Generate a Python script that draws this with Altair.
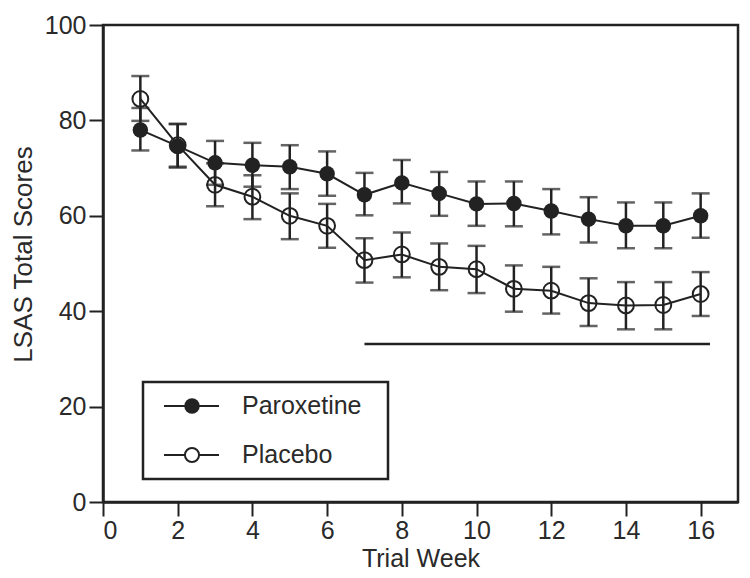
import altair as alt
import pandas as pd

weeks = list(range(1, 17))
parox_mean = [78.0, 74.6, 71.1, 70.6, 70.3, 68.8, 64.4, 66.9, 64.7, 62.5, 62.6, 61.0, 59.3, 57.9, 57.9, 60.0]
parox_lo = [73.7, 70.1, 66.5, 66.1, 65.6, 64.2, 60.1, 62.6, 60.0, 57.9, 57.8, 56.1, 54.4, 53.2, 53.2, 55.4]
parox_hi = [82.6, 79.2, 75.7, 75.3, 74.8, 73.5, 69.0, 71.7, 69.2, 67.2, 67.2, 65.6, 63.9, 62.8, 62.8, 64.7]
placebo_mean = [84.5, 74.8, 66.5, 64.0, 60.0, 57.9, 50.7, 51.9, 49.3, 48.8, 44.7, 44.3, 41.7, 41.2, 41.3, 43.6]
placebo_lo = [79.9, 70.3, 62.0, 59.3, 55.1, 53.3, 46.0, 47.1, 44.4, 43.8, 39.9, 39.5, 36.9, 36.2, 36.2, 39.0]
placebo_hi = [89.3, 79.3, 71.0, 68.5, 64.7, 62.5, 55.3, 56.5, 54.2, 53.7, 49.6, 49.3, 46.9, 46.1, 46.1, 48.2]
series_names = ["Paroxetine", "Placebo"]
sig_line_x = [7.0, 16.25]
sig_line_y = [33.1]
x_ticks = [0, 2, 4, 6, 8, 10, 12, 14, 16]
y_ticks = [0, 20, 40, 60, 80, 100]

INK = "#222222"
TXT = "#2a2a2a"
FONT = "Liberation Sans"

df = pd.DataFrame({
    "week": weeks * 2,
    "mean": parox_mean + placebo_mean,
    "lo": parox_lo + placebo_lo,
    "hi": parox_hi + placebo_hi,
    "series": [series_names[0]] * 16 + [series_names[1]] * 16,
})
sig = pd.DataFrame({"x": [sig_line_x[0]], "x2": [sig_line_x[1]], "y": sig_line_y})

xs = alt.Scale(domain=[0, 17], nice=False)
ys = alt.Scale(domain=[0, 100], nice=False)
X = alt.X("week:Q", scale=xs, title="Trial Week",
          axis=alt.Axis(values=x_ticks, labelPadding=2, titleY=44))
Y = alt.Y("mean:Q", scale=ys, title="LSAS Total Scores",
          axis=alt.Axis(values=y_ticks, labelPadding=3, titleX=-67, titleY=229, titleFontSize=26))

base = alt.Chart(df)

lines = base.mark_line(color=INK, strokeWidth=2).encode(
    x=X, y=Y, detail="series:N")
bars = base.mark_rule(color=INK, strokeWidth=2.5).encode(
    x=alt.X("week:Q", scale=xs), y=alt.Y("lo:Q", scale=ys), y2="hi:Q")
cap_lo = base.mark_tick(color=INK, orient="horizontal", size=18, thickness=2.5).encode(
    x=alt.X("week:Q", scale=xs), y=alt.Y("lo:Q", scale=ys))
cap_hi = base.mark_tick(color=INK, orient="horizontal", size=18, thickness=2.5).encode(
    x=alt.X("week:Q", scale=xs), y=alt.Y("hi:Q", scale=ys))
pts_filled = base.transform_filter(alt.datum.series == series_names[0]).mark_point(
    shape="circle", filled=True, size=240, color=INK, opacity=1).encode(x=X, y=Y)
pts_open = base.transform_filter(alt.datum.series == series_names[1]).mark_point(
    shape="circle", filled=False, size=250, color=INK, strokeWidth=2, opacity=1).encode(x=X, y=Y)

sig_rule = alt.Chart(sig).mark_rule(color=INK, strokeWidth=2.5).encode(
    x=alt.X("x:Q", scale=xs), x2="x2:Q", y=alt.Y("y:Q", scale=ys))

# manual legend
leg_df = pd.DataFrame({"series": series_names})
leg_box = alt.Chart(leg_df.head(1)).mark_rect(fill="white", stroke=INK, strokeWidth=2.5).encode(
    x=alt.value(40), x2=alt.value(285), y=alt.value(357), y2=alt.value(454))
legend_layers = [leg_box]
row_y = [381, 430]
for i, name in enumerate(series_names):
    d = alt.Chart(leg_df).transform_filter(alt.datum.series == name)
    legend_layers.append(d.mark_rule(color=INK, strokeWidth=2).encode(
        x=alt.value(61), x2=alt.value(116), y=alt.value(row_y[i])))
    legend_layers.append(d.mark_point(shape="circle", filled=(i == 0), size=240 if i == 0 else 200,
                                      color=INK, fill=INK if i == 0 else "white",
                                      strokeWidth=2, opacity=1).encode(
        x=alt.value(89), y=alt.value(row_y[i])))
    legend_layers.append(d.mark_text(align="left", baseline="middle", font=FONT, fontSize=25,
                                     color=TXT).encode(
        x=alt.value(139), y=alt.value(row_y[i]), text="series:N"))

chart = alt.layer(lines, bars, cap_lo, cap_hi, pts_open, pts_filled, sig_rule, *legend_layers).properties(
    width=635, height=477,
    autosize=alt.AutoSizeParams(type="none"),
    padding={"left": 95, "top": 17, "right": 4, "bottom": 70},
).configure_view(stroke=INK, strokeWidth=2.5).configure_axis(
    grid=False, domainColor=INK, domainWidth=2.5, tickColor=INK, tickWidth=2, tickSize=14,
    labelFont=FONT, labelFontSize=25, labelColor=TXT,
    titleFont=FONT, titleFontSize=25, titleFontWeight="normal", titleColor=TXT,
)

chart.save("out.html", embed_options={"renderer": "svg", "actions": False})
